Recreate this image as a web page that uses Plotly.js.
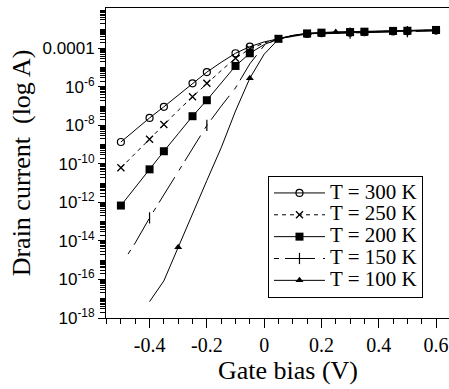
<!DOCTYPE html>
<html>
<head>
<meta charset="utf-8">
<script src="https://cdn.plot.ly/plotly-3.0.1.min.js"></script>
<style>
html,body{margin:0;padding:0;overflow:hidden;background:#fff;}
#chart{width:470px;height:389px;}
</style>
</head>
<body>
<div id="chart"></div>
<script>
// Gate bias (V)
const vg_full = [-0.5,-0.45,-0.4,-0.35,-0.3,-0.25,-0.2,-0.15,-0.1,-0.05,0,0.05,0.1,0.15,0.2,0.25,0.3,0.35,0.4,0.45,0.5,0.55,0.6];
const vg_150K = [-0.475,-0.45,-0.4,-0.35,-0.3,-0.25,-0.2,-0.15,-0.1,-0.05,0,0.05,0.1,0.15,0.2,0.25,0.3,0.35,0.4,0.45,0.5,0.55,0.6];
const vg_100K = [-0.4,-0.35,-0.3,-0.25,-0.2,-0.15,-0.1,-0.05,0,0.05,0.1,0.15,0.2,0.25,0.3,0.35,0.4,0.45,0.5,0.55,0.6];

// log10 of drain current (A)
const logI_300K = [-8.86,-8.22,-7.61,-7.03,-6.42,-5.81,-5.23,-4.72,-4.25,-3.91,-3.66,-3.50,-3.36,-3.25,-3.21,-3.19,-3.18,-3.16,-3.14,-3.12,-3.11,-3.09,-3.07];
const logI_250K = [-10.2,-9.45,-8.72,-7.95,-7.22,-6.51,-5.81,-5.15,-4.51,-4.02,-3.72,-3.50,-3.35,-3.24,-3.19,-3.17,-3.16,-3.14,-3.12,-3.10,-3.09,-3.07,-3.05];
const logI_200K = [-12.16,-11.2,-10.28,-9.34,-8.43,-7.52,-6.69,-5.80,-4.91,-4.25,-3.80,-3.50,-3.34,-3.22,-3.18,-3.16,-3.15,-3.13,-3.11,-3.09,-3.08,-3.06,-3.04];
const logI_150K = [-14.68,-14.1,-12.8,-11.6,-10.39,-9.13,-8.0,-7.0,-6.05,-4.80,-3.85,-3.48,-3.33,-3.26,-3.23,-3.21,-3.20,-3.18,-3.16,-3.14,-3.13,-3.11,-3.09];
const logI_100K = [-17.15,-16.07,-14.33,-12.55,-10.86,-9.16,-7.25,-5.55,-4.30,-3.52,-3.32,-3.21,-3.16,-3.14,-3.13,-3.11,-3.09,-3.08,-3.06,-3.05,-3.03];

// gate biases where symbols are drawn
const mark_300K = [-0.5,-0.4,-0.35,-0.25,-0.2,-0.1,-0.05,0.15,0.2,0.3,0.35,0.45,0.5,0.6];
const mark_250K = [-0.5,-0.4,-0.35,-0.25,-0.2,-0.1,-0.05,0.05,0.15,0.2,0.3,0.35,0.45,0.5,0.6];
const mark_200K = [-0.5,-0.4,-0.35,-0.25,-0.2,-0.1,-0.05,0.05,0.15,0.2,0.3,0.35,0.45,0.5,0.6];
const mark_150K = [-0.4,-0.2,0.3,0.5];
const mark_100K = [-0.3,-0.05,0.25];

const seriesNames = ["T = 300 K","T = 250 K","T = 200 K","T = 150 K","T = 100 K"];

const yTickVals = [1e-18,1e-16,1e-14,1e-12,1e-10,1e-8,1e-6,1e-4];
const yTickText = ["10<sup>-18</sup>","10<sup>-16</sup>","10<sup>-14</sup>","10<sup>-12</sup>","10<sup>-10</sup>","10<sup>-8</sup>","10<sup>-6</sup>","0.0001"];
const xTickVals = [-0.4,-0.2,0,0.2,0.4,0.6];
const xTickText = ["-0.4","-0.2","0","0.2","0.4","0.6"];

const toA = arr => arr.map(v => Math.pow(10, v));
const pick = (xs, ys, marks) => {
  const px = [], py = [];
  xs.forEach((x, i) => { if (marks.some(m => Math.abs(m - x) < 1e-9)) { px.push(x); py.push(ys[i]); } });
  return {x: px, y: py};
};

const styles = [
  {x: vg_full, y: logI_300K, marks: mark_300K, dash: "solid", sym: "circle-open", size: 7, mlw: 1.2},
  {x: vg_full, y: logI_250K, marks: mark_250K, dash: "4px,4px", sym: "x-thin-open", size: 7, mlw: 1.3},
  {x: vg_full, y: logI_200K, marks: mark_200K, dash: "solid", sym: "square", size: 8, mlw: 0},
  {x: vg_150K, y: logI_150K, marks: mark_150K, dash: "5px,6px,30px,8px", sym: "line-ns-open", size: 8, mlw: 1.2},
  {x: vg_100K, y: logI_100K, marks: mark_100K, dash: "solid", sym: "triangle-up", size: 7, mlw: 0}
];

const traces = [];
// legend entries
styles.forEach((s, i) => {
  traces.push({
    x: [null], y: [null], type: "scatter", mode: "lines+markers",
    name: '<span style="font-size:21px">' + seriesNames[i] + '</span>',
    legendgroup: "g" + i, showlegend: true,
    line: {color: "black", width: 1, dash: s.dash},
    marker: {symbol: s.sym, size: s.size, color: "black", line: {color: "black", width: s.mlw}}
  });
});
// curves and symbols (draw low T first so squares sit on top at saturation)
[4,3,1,0,2].forEach(i => {
  const s = styles[i];
  const yA = toA(s.y);
  traces.push({
    x: s.x, y: yA, type: "scatter", mode: "lines", legendgroup: "g" + i, showlegend: false,
    line: {color: "black", width: 1, dash: s.dash}, hoverinfo: "skip"
  });
  const m = pick(s.x, yA, s.marks);
  traces.push({
    x: m.x, y: m.y, type: "scatter", mode: "markers", legendgroup: "g" + i, showlegend: false,
    marker: {symbol: s.sym, size: s.size, color: "black", line: {color: "black", width: s.mlw}}
  });
});

const yMinor = [];
for (let e = -18; e <= -2; e++) {
  for (let k = 1; k <= 9; k++) {
    if (k === 1 && e % 2 === 0) continue;
    yMinor.push(k * Math.pow(10, e));
  }
}

const layout = {
  width: 470, height: 389,
  margin: {l: 106, r: 0, t: 8, b: 71},
  paper_bgcolor: "white", plot_bgcolor: "white",
  showlegend: true,
  legend: {
    x: 0.445, y: 0.458, xanchor: "left", yanchor: "top",
    bgcolor: "white", bordercolor: "black", borderwidth: 1,
    font: {family: "Liberation Serif", size: 14.5, color: "black"},
    itemwidth: 51, tracegroupgap: 0
  },
  xaxis: {
    range: [-0.552, 0.7185],
    tickmode: "array", tickvals: xTickVals, ticktext: xTickText,
    ticks: "outside", ticklen: 9, tickwidth: 1, tickcolor: "black",
    minor: {dtick: 0.05, tick0: 0, ticks: "outside", ticklen: 5, tickwidth: 1, tickcolor: "black"},
    showline: true, linecolor: "black", linewidth: 1, mirror: true,
    showgrid: false, zeroline: false,
    tickfont: {family: "Liberation Serif", size: 20, color: "black"},
    title: {text: "Gate bias (V)", font: {family: "Liberation Serif", size: 26, color: "black"}, standoff: 2}
  },
  yaxis: {
    type: "log", range: [-18, -1.9],
    tickmode: "array", tickvals: yTickVals, ticktext: yTickText,
    ticks: "outside", ticklen: 7, tickwidth: 1, tickcolor: "black",
    minor: {tickmode: "array", tickvals: yMinor, ticks: "outside", ticklen: 5, tickwidth: 1, tickcolor: "black"},
    showline: true, linecolor: "black", linewidth: 1, mirror: false,
    showgrid: false, zeroline: false,
    tickfont: {family: "Liberation Sans", size: 17, color: "black"},
    title: {text: "Drain current  (log A)", font: {family: "Liberation Serif", size: 26, color: "black"}, standoff: 4}
  }
};

Plotly.newPlot("chart", traces, layout, {displayModeBar: false, staticPlot: true});
</script>
</body>
</html>
